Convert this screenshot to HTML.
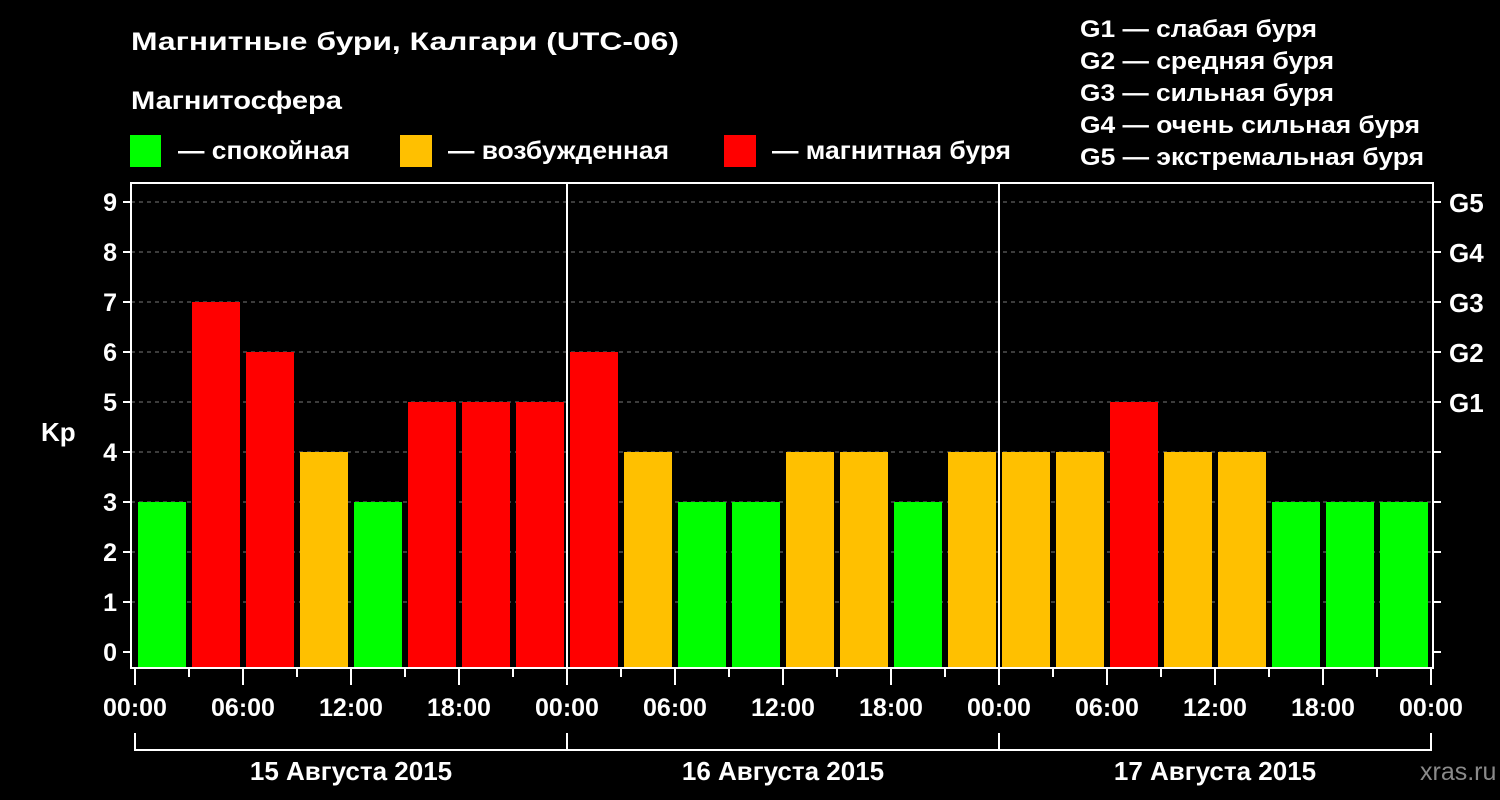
<!DOCTYPE html>
<html><head><meta charset="utf-8">
<style>html,body{margin:0;padding:0;background:#000;}svg{display:block;}text{font-family:"Liberation Sans","DejaVu Sans",sans-serif;font-weight:bold;fill:#fff;}</style>
</head><body>
<svg id="chart" width="1500" height="800" viewBox="0 0 1500 800">
<rect width="1500" height="800" fill="#000"/>
<text x="131" y="50" font-size="25" textLength="548" lengthAdjust="spacingAndGlyphs">Магнитные бури, Калгари (UTC-06)</text>
<text x="131" y="109" font-size="25" textLength="211" lengthAdjust="spacingAndGlyphs">Магнитосфера</text>
<g><rect x="130" y="135" width="31" height="32" fill="#00ff00"/><text x="178" y="159" font-size="25" textLength="172" lengthAdjust="spacingAndGlyphs">— спокойная</text></g>
<g><rect x="400" y="135" width="32" height="32" fill="#ffc000"/><text x="448" y="159" font-size="25" textLength="221" lengthAdjust="spacingAndGlyphs">— возбужденная</text></g>
<g><rect x="724" y="135" width="32" height="32" fill="#ff0000"/><text x="772" y="159" font-size="25" textLength="239" lengthAdjust="spacingAndGlyphs">— магнитная буря</text></g>
<g>
<text x="1080" y="37" font-size="24" textLength="237" lengthAdjust="spacingAndGlyphs">G1 — слабая буря</text>
<text x="1080" y="69" font-size="24" textLength="254" lengthAdjust="spacingAndGlyphs">G2 — средняя буря</text>
<text x="1080" y="101" font-size="24" textLength="254" lengthAdjust="spacingAndGlyphs">G3 — сильная буря</text>
<text x="1080" y="133" font-size="24" textLength="340" lengthAdjust="spacingAndGlyphs">G4 — очень сильная буря</text>
<text x="1080" y="165" font-size="24" textLength="344" lengthAdjust="spacingAndGlyphs">G5 — экстремальная буря</text>
</g>
<g id="plot"></g>
<text x="41" y="441" font-size="26">Kp</text>
<text x="1420" y="780" font-size="25" fill="#888" style="fill:#8a8a8a;font-weight:normal">xras.ru</text>
</svg>
<script>
const kpValues=[3,7,6,4,3,5,5,5,6,4,3,3,4,4,3,4,4,4,5,4,4,3,3,3];
const yTicks=[0,1,2,3,4,5,6,7,8,9];
const gLabels=[{v:5,t:"G1"},{v:6,t:"G2"},{v:7,t:"G3"},{v:8,t:"G4"},{v:9,t:"G5"}];
const timeLabels=["00:00","06:00","12:00","18:00","00:00","06:00","12:00","18:00","00:00","06:00","12:00","18:00","00:00"];
const dayLabels=["15 Августа 2015","16 Августа 2015","17 Августа 2015"];
const NS="http://www.w3.org/2000/svg";
const g=document.getElementById('plot');
const X0=135,HOUR=18,Y0=652,UNIT=50,L=131,R=1433,T=183,B=668;
const x=h=>X0+h*HOUR, y=v=>Y0-v*UNIT;
function mk(tag,a){const e=document.createElementNS(NS,tag);for(const k in a)e.setAttribute(k,a[k]);g.appendChild(e);return e;}
yTicks.forEach(v=>{
 if(v>0){const gl=mk('line',{x1:L,x2:R,y1:y(v),y2:y(v),stroke:'#777','stroke-dasharray':'4,4','stroke-width':1});
 
 }
 const t=mk('line',{x1:L-8,x2:L,y1:y(v),y2:y(v),stroke:'#fff','stroke-width':2});
 
 
 const t2=mk('line',{x1:R,x2:R+8,y1:y(v),y2:y(v),stroke:'#fff','stroke-width':2});
 
 
 const lb=mk('text',{x:L-14,y:y(v)+9,'font-size':25,'text-anchor':'end'});lb.textContent=v;
 
 
});
gLabels.forEach(o=>{const lb=mk('text',{x:R+16,y:y(o.v)+10,'font-size':26});lb.textContent=o.t;
 
 });
kpValues.forEach((v,i)=>{
 const c=v<4?'#00ff00':(v<5?'#ffc000':'#ff0000');
 const b=mk('rect',{x:x(i*3)+3,y:y(v),width:3*HOUR-6,height:B-y(v),fill:c});
 
 
});
[24,48].forEach(h=>{const d=mk('line',{x1:x(h),x2:x(h),y1:T,y2:B,stroke:'#fff','stroke-width':2});
 
 });
const fr=mk('path',{d:`M${L},${T}H${R}V${B}H${L}Z`,fill:'none',stroke:'#fff','stroke-width':2});


for(let h=0;h<=72;h+=3){
 const major=h%6===0;
 const tk=mk('line',{x1:x(h),x2:x(h),y1:B,y2:B+(major?17:9),stroke:'#fff','stroke-width':2});
 
 
}
timeLabels.forEach((s,i)=>{const t=mk('text',{x:x(i*6),y:716,'font-size':25,'text-anchor':'middle'});t.textContent=s;
 
 });
const br=mk('path',{d:`M${x(0)},733V750H${x(72)}V733M${x(24)},733V750M${x(48)},733V750`,fill:'none',stroke:'#fff','stroke-width':2});


dayLabels.forEach((s,i)=>{const t=mk('text',{x:x(i*24+12),y:780,'font-size':26,'text-anchor':'middle'});t.textContent=s;
 
 });
</script>
</body></html>
